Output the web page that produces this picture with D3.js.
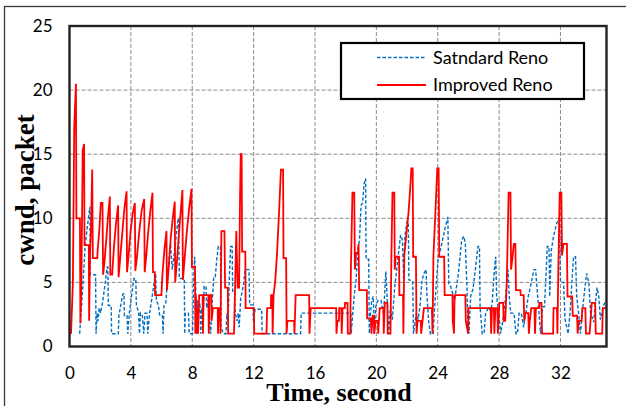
<!DOCTYPE html>
<html><head><meta charset="utf-8">
<script src="https://cdn.jsdelivr.net/npm/d3@7"></script>
<style>html,body{margin:0;padding:0;background:#fff;}svg{display:block;}</style>
</head><body>
<svg id="chart" width="626" height="406"></svg>
<script>
const seriesNames = ["Satndard Reno", "Improved Reno"];
const xTicks = [0, 4, 8, 12, 16, 20, 24, 28, 32];
const yTicks = [0, 5, 10, 15, 20, 25];

// [time (s), cwnd (packets)]
const standardReno = [
[0.66,1.0],[0.78,3.0],[0.90,5.3],[1.02,7.9],[1.15,9.2],[1.33,10.9],[1.36,5.6],[1.70,5.6],[1.73,1.0],[1.80,2.6],[1.86,2.0],[1.93,3.0],[2.02,2.6],[2.15,3.4],[2.30,4.7],[2.45,6.2],[2.50,6.2],[2.53,3.2],[2.72,3.2],[2.74,1.0],[3.18,1.0],[3.22,2.4],[3.38,3.5],[3.48,4.1],[3.55,4.1],[3.58,2.4],[3.75,2.4],[3.80,1.0],[3.90,2.6],[4.05,4.0],[4.20,5.3],[4.32,5.3],[4.36,3.2],[4.50,2.7],[4.56,1.0],[4.62,2.6],[4.75,2.4],[4.84,1.0],[4.92,2.6],[5.05,2.6],[5.10,1.0],[5.22,2.6],[5.40,4.0],[5.55,5.3],[5.62,5.6],[5.66,3.6],[5.80,3.2],[5.88,2.4],[6.06,2.4],[6.10,1.0],[6.16,3.2],[6.28,3.4],[6.40,5.6],[6.52,7.3],[6.58,8.0],[6.70,6.0],[6.80,7.0],[6.95,8.6],[7.05,9.7],[7.10,10.0],[7.16,5.3],[7.48,5.3],[7.51,1.0],[7.55,2.6],[7.75,2.6],[7.80,1.0],[8.02,1.0],[8.10,5.5],[8.16,7.0],[8.24,4.0],
[8.28,1.0],[8.34,3.6],[8.42,2.6],[8.50,3.4],[8.56,1.0],[8.62,3.0],[8.70,2.0],[8.78,4.7],[8.90,4.7],[8.94,3.0],[9.04,3.6],[9.12,2.0],[9.20,1.0],[9.28,3.0],[9.40,5.4],[9.50,5.4],[9.60,6.8],[9.70,7.8],[9.84,7.8],[9.88,1.5],[10.02,1.0],[10.20,1.0],[10.26,2.6],[10.34,2.0],[10.42,5.5],[10.50,7.8],[10.60,7.8],[10.64,4.2],[10.76,4.2],[10.80,2.6],[10.92,2.0],[11.00,2.6],[11.06,1.5],[11.16,3.8],[11.24,4.2],[11.36,5.0],[11.44,6.0],[11.70,6.0],[11.74,3.25],[11.96,3.25],[11.98,2.0],[12.10,2.9],[12.52,2.9],[12.56,1.0],[15.06,1.0],[15.10,2.6],[18.34,2.6],
[18.36,1.0],[18.46,2.6],[18.57,4.15],[18.68,5.2],[18.79,7.5],[18.90,8.3],[19.00,11.0],[19.10,11.2],[19.20,12.7],[19.30,13.1],[19.33,6.8],[19.50,6.8],[19.54,1.0],[19.62,2.6],[19.70,3.6],[19.80,3.9],[19.86,1.0],[19.96,3.1],[20.10,3.6],[20.30,3.6],[20.46,2.6],[20.52,3.6],[20.62,5.85],[20.70,3.9],[20.80,1.0],[20.92,3.0],[21.04,2.1],[21.20,4.7],[21.40,6.8],[21.58,8.7],[21.70,8.3],[21.78,5.2],[21.86,8.6],[22.00,9.75],[22.08,9.75],[22.12,5.2],[22.37,5.1],[22.42,1.0],[22.60,2.6],[22.72,2.1],[22.84,3.1],[22.98,5.2],[23.10,5.7],[23.24,6.0],[23.30,3.9],[23.40,2.1],[23.52,1.0],[23.70,1.0],[23.80,3.1],[24.02,6.8],[24.28,8.1],[24.50,9.35],[24.66,10.1],[24.72,4.9],[24.84,4.7],[25.10,3.6],[25.35,5.7],[25.56,8.3],[25.70,8.6],[25.80,8.0],[25.90,4.7],
[25.96,2.1],[26.04,1.0],[26.14,3.9],[26.30,4.5],[26.45,6.0],[26.62,7.8],[26.72,7.8],[26.76,3.1],[26.90,1.0],[27.02,1.0],[27.12,2.6],[27.34,3.1],[27.46,2.6],[27.56,3.6],[27.67,5.7],[27.78,7.0],[27.84,3.9],[27.98,2.6],[28.10,1.0],[28.24,2.0],[28.40,3.6],[28.50,5.0],[28.58,6.0],[28.66,3.9],[28.76,2.6],[28.97,2.6],[29.10,1.0],[29.20,1.0],[29.30,2.6],[29.45,2.6],[29.60,1.5],[29.74,2.6],[29.90,3.9],[30.10,5.0],[30.27,6.0],[30.38,6.0],[30.48,4.4],[30.60,2.6],[30.70,1.0],[30.84,3.1],[30.96,3.1],[31.14,7.8],[31.25,7.8],[31.30,3.9],[31.40,7.5],[31.55,8.6],[31.75,9.6],[31.92,10.0],[32.00,5.0],[32.20,5.0],[32.30,2.1],[32.50,1.0],[32.62,2.6],[32.85,7.0],[32.98,7.0],[33.06,3.9],[33.18,2.6],[33.30,1.0],[33.50,3.6],[33.70,5.7],[33.85,5.0],[33.96,2.6],[34.16,1.9],[34.38,4.6],[34.50,3.9],[34.60,2.1],[34.78,3.1],[34.95,3.6]
];

const improvedReno = [
[0.10,1.0],[0.22,5],[0.31,17.3],[0.42,20.5],[0.45,10],[0.68,10],[0.71,1.8],[0.78,5.5],[0.86,15.3],[0.95,15.8],[0.98,7.9],[1.26,7.9],[1.28,2.0],[1.34,7.5],[1.40,9.2],[1.48,13.8],[1.52,6.9],[1.81,6.9],[1.84,7.6],[1.95,9.2],[2.04,11.2],[2.15,11.2],[2.19,5.6],[2.28,6.6],[2.40,8.4],[2.52,10.3],[2.63,11.7],[2.66,5.6],[2.78,5.6],[2.90,7.8],[3.03,9.6],[3.17,11.0],[3.20,5.4],[3.30,6.8],[3.45,9.0],[3.58,10.8],[3.72,12.1],[3.75,5.8],[3.86,7.2],[3.98,9.0],[4.12,10.4],[4.26,11.2],[4.29,5.9],[4.40,7.0],[4.55,9.0],[4.70,10.6],[4.87,11.5],[4.90,5.8],[5.00,7.0],[5.12,8.8],[5.27,10.6],[5.41,12.0],[5.44,5.8],[5.56,5.8],[5.58,4.0],[5.99,4.0],[6.05,5.5],[6.18,7.5],[6.32,9.0],[6.35,4.4],[6.47,6.2],[6.60,8.5],[6.73,10.0],[6.86,11.3],[6.89,5.0],[7.00,6.6],[7.12,8.6],[7.24,10.4],[7.36,12.2],[7.39,5.2],[7.50,6.8],[7.65,9.0],[7.80,10.8],[7.95,12.3],[7.98,6.2],[8.18,6.2],
[8.20,1.0],[8.24,4.0],[8.28,1.0],[8.32,3.0],[8.38,1.0],[8.45,4.0],[8.68,4.0],[8.70,1.0],[8.74,4.0],[9.05,4.0],[9.08,1.0],[9.12,4.0],[9.24,4.0],[9.26,2.0],[9.35,3.0],[9.66,3.0],[9.68,1.0],[9.72,3.0],[9.80,3.0],[9.84,1.0],[9.90,9.0],[10.10,9.0],[10.14,4.6],[10.32,4.6],[10.34,1.0],[10.72,1.0],[10.80,5.0],[10.87,9.0],[10.96,4.6],[11.05,4.6],[11.12,12],[11.16,15.0],[11.22,15.0],[11.25,7.4],[11.46,7.4],[11.48,3.0],[12.02,3.0],[12.04,1.0],[12.84,1.0],[12.88,3.0],[13.12,3.0],[13.14,4.0],[13.22,4.0],[13.24,1.0],[13.30,4.0],[13.40,5.0],[13.52,7.1],[13.66,10.5],[13.78,13.8],[13.92,13.8],[13.95,6.9],[14.12,6.9],[14.15,1.0],[14.20,2.0],[14.64,2.0],[14.66,1.0],[14.74,4.0],[15.62,4.0],[15.64,1.0],[15.68,2.0],[15.72,3.0],[17.38,3.0],
[17.40,1.0],[17.46,2.0],[17.56,2.0],[17.58,3.0],[17.72,3.0],[17.74,1.0],[17.80,3.0],[17.94,3.0],[17.96,3.4],[18.12,3.4],[18.14,1.0],[18.30,1.0],[18.34,6.0],[18.44,12.0],[18.56,12.0],[18.60,6.0],[18.68,7.3],[18.80,7.3],[18.84,8.0],[18.88,4.4],[19.38,4.4],[19.40,2.2],[19.64,2.2],[19.68,1.0],[19.76,2.4],[19.84,2.4],[19.86,1.0],[19.95,2.0],[20.10,2.0],[20.12,1.0],[20.22,3.0],[20.46,3.0],[20.48,1.0],[20.55,3.4],[20.72,3.4],[20.74,1.0],[20.92,1.0],[20.98,7.0],[21.05,12.0],[21.17,12.0],[21.20,6.0],[21.26,7.0],[21.48,7.0],[21.50,4.0],[21.74,4.0],[21.76,1.0],[21.82,7.1],[21.95,8.7],[22.10,10.5],[22.22,12.6],[22.28,13.9],[22.37,13.9],[22.40,7.0],[22.58,7.0],[22.62,1.0],[22.68,2.0],[22.90,2.0],[22.92,1.0],[23.10,3.0],[23.62,3.0],[23.66,1.0],[23.72,7.1],[23.85,10.5],[23.97,13.9],[24.06,13.9],[24.10,7.0],[24.42,7.0],[24.45,4.0],[24.96,4.0],[24.98,2.0],[25.06,1.0],[25.10,4.0],[25.80,4.0],[25.83,2.0],[25.98,1.0],
[26.0,3.0],[27.45,3.0],[27.48,1.0],[27.54,3.0],[27.66,3.0],[27.69,1.0],[27.76,3.0],[27.88,3.0],[27.92,1.0],[28.02,3.4],[28.26,3.4],[28.30,2.0],[28.40,2.0],[28.50,5.0],[28.62,12.0],[28.74,12.0],[28.78,6.0],[28.88,7.0],[28.96,8.0],[29.06,8.0],[29.10,4.4],[29.38,4.4],[29.41,4.0],[29.60,4.0],[29.64,2.0],[29.70,2.6],[29.90,2.6],[29.94,1.0],[30.0,2.0],[30.10,3.0],[30.30,3.0],[30.34,1.0],[30.40,3.0],[30.60,3.0],[30.64,3.4],[30.76,3.4],[30.80,1.0],[31.52,1.0],[31.55,3.0],[31.77,3.0],[31.80,1.0],[31.86,6.0],[31.95,12.0],[32.06,12.0],[32.10,7.1],[32.20,8.0],[32.42,8.0],[32.46,3.9],[32.76,3.9],[32.80,2.4],[33.08,2.4],[33.12,1.0],[33.20,2.0],[33.38,2.0],[33.42,3.0],[33.62,3.0],[33.66,1.0],[33.90,1.0],[34.04,3.4],[34.26,3.4],[34.30,1.0],[34.72,1.0],[34.76,3.0],[34.95,3.0]
];

const seriesColors = ["#0070C0", "#FF0000"];

const svg = d3.select("#chart");
const plot = {left: 69.5, right: 606.5, top: 26, bottom: 346.5};
const x = d3.scaleLinear().domain([0, 35]).range([plot.left, plot.right]);
const y = d3.scaleLinear().domain([0, 25]).range([plot.bottom, plot.top]);

// outer border
svg.append("rect").attr("x", 4.5).attr("y", 6.5).attr("width", 700).attr("height", 500)
  .attr("fill", "none").attr("stroke", "#3a3a3a").attr("stroke-width", 1.3);

// gridlines
const grid = svg.append("g");
grid.selectAll("line.v").data(xTicks.filter(d => d > 0)).enter().append("line")
  .attr("x1", d => x(d)).attr("x2", d => x(d)).attr("y1", plot.top).attr("y2", plot.bottom)
  .attr("stroke", "#8c8c8c").attr("stroke-width", 1).attr("stroke-dasharray", "4,2");
grid.selectAll("line.h").data(yTicks.filter(d => d > 0 && d < 25)).enter().append("line")
  .attr("x1", plot.left).attr("x2", plot.right).attr("y1", d => y(d)).attr("y2", d => y(d))
  .attr("stroke", "#8c8c8c").attr("stroke-width", 1).attr("stroke-dasharray", "4,2");

svg.append("clipPath").attr("id", "clip").append("rect")
  .attr("x", plot.left).attr("y", plot.top).attr("width", plot.right - plot.left).attr("height", plot.bottom - plot.top);

const line = d3.line().x(d => x(d[0])).y(d => y(d[1]));
const dataG = svg.append("g").attr("clip-path", "url(#clip)");
dataG.append("path").datum(standardReno).attr("d", line).attr("fill", "none")
  .attr("stroke", seriesColors[0]).attr("stroke-width", 1.4).attr("stroke-dasharray", "3.5,2");
dataG.append("path").datum(improvedReno).attr("d", line).attr("fill", "none")
  .attr("stroke", seriesColors[1]).attr("stroke-width", 1.8).attr("stroke-linejoin", "miter");

// frame
svg.append("rect").attr("x", plot.left).attr("y", plot.top)
  .attr("width", plot.right - plot.left).attr("height", plot.bottom - plot.top)
  .attr("fill", "none").attr("stroke", "#222").attr("stroke-width", 2.4);

// axes labels via d3 axes (no domain/ticks lines)
const yAxis = svg.append("g").attr("transform", `translate(${plot.left},0)`)
  .call(d3.axisLeft(y).tickValues(yTicks).tickSize(0).tickPadding(17));
const xAxis = svg.append("g").attr("transform", `translate(0,${plot.bottom})`)
  .call(d3.axisBottom(x).tickValues(xTicks).tickSize(0).tickPadding(20));
[yAxis, xAxis].forEach(a => {
  a.select(".domain").remove();
  a.selectAll("text").attr("font-family", "Lato, 'Open Sans', sans-serif").attr("font-size", 17).attr("fill", "#000");
});

// axis titles
svg.append("text").attr("transform", "translate(34,190) rotate(-90)").attr("text-anchor", "middle")
  .attr("font-family", "'Liberation Serif', 'Times New Roman', serif").attr("font-weight", "bold")
  .attr("font-size", 27).text("cwnd, packet");
svg.append("text").attr("x", 339).attr("y", 401).attr("text-anchor", "middle")
  .attr("font-family", "'Liberation Serif', 'Times New Roman', serif").attr("font-weight", "bold")
  .attr("font-size", 26).text("Time, second");

// legend
const lg = svg.append("g");
lg.append("rect").attr("x", 341).attr("y", 43).attr("width", 243).attr("height", 56)
  .attr("fill", "#fff").attr("stroke", "#000").attr("stroke-width", 2.2);
const rowsY = [57.5, 85];
seriesNames.forEach((name, i) => {
  lg.append("line").attr("x1", 377).attr("x2", 426).attr("y1", rowsY[i]).attr("y2", rowsY[i])
    .attr("stroke", seriesColors[i]).attr("stroke-width", i === 0 ? 1.4 : 1.8)
    .attr("stroke-dasharray", i === 0 ? "3.5,2" : null);
  lg.append("text").attr("x", 433).attr("y", rowsY[i]).attr("dy", "0.35em")
    .attr("font-family", "Lato, 'Open Sans', sans-serif").attr("font-size", 18).attr("fill", "#000").text(name);
});
</script>
</body></html>
